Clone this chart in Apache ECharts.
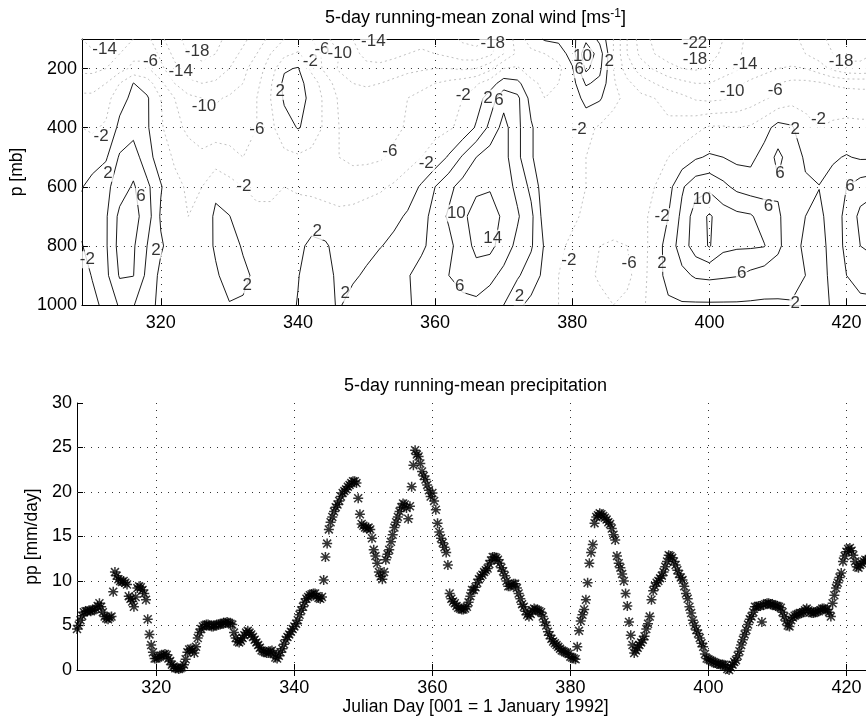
<!DOCTYPE html>
<html><head><meta charset="utf-8">
<script src="https://cdn.jsdelivr.net/npm/echarts@6/dist/echarts.min.js"></script>
<style>html,body{margin:0;padding:0;background:#fff;overflow:hidden;}#c{width:951px;height:721px;}</style>
</head><body><div id="c"></div>
<script>
// ---------------- DATA ----------------
// Zonal wind field (m/s) on a day x pressure grid
const gridDays = [308.5,310,312,314,316,318,320,322,324,326,328,330,332,334,336,338,340,342,344,346,348,350,352,354,356,358,360,362,364,366,368,370,372,374,376,378,380,382,384,386,388,390,392,394,396,398,400,402,404,406,408,410,412,414,416,418,420,422,424];
const pressureLevels = [100,150,200,250,300,400,500,600,700,800,900,1000];
const u100 = [-14,-15,-16,-13,-10,-9,-13,-17,-19,-20, -19,-17,-15,-12,-9,-6,-5,-6,-9,-12, -14,-15,-16,-16,-15,-15,-16,-17,-18.5,-19, -18,-10,-4,0,2.5,3,5,9,5,-2, -10,-16,-19,-21,-22,-22.5,-21,-18,-15,-13, -12,-12,-13,-15,-17,-19,-20,-19,-18];
const u150 = [-13,-13.5,-14,-10,-7,-6.5,-11,-15,-18,-19, -18,-16,-13,-10,-6,-3,-1.5,-4,-7,-10, -13,-15,-15.5,-15,-14,-13.5,-14,-15,-16.5,-17, -15,-10,-5,-3,-2,-0.5,4,13,8,-2, -10,-15,-18,-20,-21,-21.5,-20,-17,-14.5,-13, -12,-12,-12.5,-14,-16,-18,-19,-18.5,-18];
const u200 = [-11,-11,-10,-7.5,-5,-5.5,-9,-13,-16,-17, -16,-14,-11,-8,-4,1.5,2.3,-3,-7,-10.5, -12,-13,-13,-12,-11,-10.5,-10,-10,-10.5,-10, -7,-2,-1.5,-4,-5,-3,1.5,11,7,-2, -8,-12,-14.5,-16.5,-18,-18.5,-17.5,-16,-14.5,-13, -11.5,-10,-9.5,-10,-12,-15,-17,-17.5,-17];
const u250 = [-8,-8,-6,-2,2.1,0,-5,-10,-13,-14, -13.5,-12,-10,-7,-2.5,3,3.5,0,-4,-8, -10,-10.5,-10,-9,-8,-7,-6,-5,-4,-2.5, 0,4,3,-1,-3,-2,0.5,6.5,5,-1.5, -5,-8,-10,-12,-13,-14,-14,-12.5,-11,-9, -7.5,-6,-5,-5,-5.5,-6.5,-7,-7,-7];
const u300 = [-5,-5,-3.5,0.5,3,2.5,-2,-6,-9,-10, -10.5,-9.5,-8,-6,-2,2.5,3.5,1,-3,-6.5, -8,-8.5,-8,-7,-6,-5,-4,-3,-2,0, 4,8.5,7,0.5,-2,-2,-0.5,3.5,2.5,-1, -3,-5,-6,-7.5,-9,-10.5,-11,-10.5,-9.5,-8, -6.5,-5,-3.5,-3,-3,-3.5,-4,-4.5,-4.5];
const u400 = [-2,-2.5,-1.5,3,4.5,2.5,-1.5,-4.5,-7,-8.5, -8,-7.5,-7,-6,-3,0.5,2.2,1,-3,-6, -7.5,-8,-8,-7,-5.5,-4,-3,-2.5,-1,2.5, 7,11.5,7,2.5,-1,-2,-2,-1,-2.5,-3.5, -4.5,-5,-5.5,-5,-4,-3,-1.5,-1.5,-2,-1.5, 0.5,3.5,2.5,-1,-2,-1.5,-1,-1,-1];
const u500 = [-1,0,1.5,6.5,8,3.5,0,-2.5,-4,-5, -4,-5,-6,-6,-5,-3,-2.5,-3.5,-5,-6, -7,-7,-6.5,-5,-3.5,-2,-0.5,2.5,6.5,10, 12,11.5,7,2.5,-1,-1.5,-2,-2,-2.5,-3, -3.5,-3.5,-3,-2,-0.5,1.5,2.5,2,1,1, 3.5,7,4,1.5,0.5,1.5,2.3,1.5,1.5];
const u600 = [1.8,3.5,5,8,10.5,7,2.3,-1,-2.5,-2, 1,-0.5,-2,-3,-2.5,-2,-2.5,-3,-3.5,-4, -3.5,-3,-2.5,-1.5,0,2.5,6,9,11.5,13, 13.5,12,9,5,-0.5,-1,-1.5,-2,-2.5,-3, -3.5,-3,-2,0.5,5.5,8.5,9,7,5,4, 4.5,5.5,4.5,2.5,2.1,3.5,6,8,9];
const u700 = [3,4,5.5,11,11.5,8,1.5,-1,-2,-1, 2.8,2.1,0,-1,-1.5,-1,-0.5,0,-0.5,-1, -1,-0.5,0,1,2.5,4,8,10.5,13,16, 16.5,13,10.5,7,0,-1,-1.5,-2.5,-3.5,-4, -4.5,-3,-1,2,7,12,14.5,12,11,10.5, 8,6.5,4,2,1,4,7,11,12];
const u800 = [1.8,4,5.5,11.5,10.5,6,2.5,0,-1,0, 2.5,4,1.5,0,-0.5,0,1,3,2.5,0.5, 0.5,1,1.8,3,4,5.5,7,9,12,15, 15.2,12,9,6.5,1.5,-1.5,-2.5,-4,-6,-6.5, -6,-4,0,3.5,8,12,14.3,11,10.5,10.5, 10.2,7,3,1.5,0.5,3.5,7,10,11];
const u900 = [0.5,2.2,5,10.4,10.1,5,1,-0.5,-1,0, 1.5,3.5,3,1,0,0.5,1.8,4,3.5,1, 1.5,2.5,4.5,5,5.8,7,8,10,12,12.5, 11,9,6.5,4,1,-2,-3,-5,-6.5,-7.5, -7,-4,0.5,3,5,6.5,6.8,6.5,6.2,5, 4,3.5,3,2,0.5,3,6,7.5,8];
const u1000 = [0,1,3,6.5,6.2,3.5,1,0,-0.5,-0.5, 0.5,1.8,1.5,0.5,0,0.5,2.2,3.5,2.8,1.7, 3.2,4,4.5,5,5.8,6.5,7,8,8.5,9, 8,6,2.8,1,0,-2,-3,-4,-5,-6, -5,-3,0,1.5,1.6,1.5,1.5,1.5,1.5,1.5, 1.5,1.6,1.8,1.5,0.5,2.5,4,5,5];
const contourLevels = [-22,-18,-14,-10,-6,-2,2,6,10,14];

// Contour labels as printed in the picture
const labelText = ["2","6","2","-2","-2","2","-2","-6","-10","-14","-6","-14","-18","2","-2","-6","-10","-14","-6","-2","-2","2","2","10","6","2","6","14","2","-18","10","6","2","-2","-2","-6","-2","2","-22","-18","-14","-10","-6","-2","2","-18","6","10","6","6","2","6"];
const labelDay  = [312.3,317.1,319.3,309.3,311.3,332.6,332.1,334.0,326.3,311.8,318.5,322.9,325.3,337.4,341.8,343.5,346.1,351.0,353.4,358.7,364.1,342.8,346.9,363.1,363.6,367.7,369.3,368.4,372.3,368.4,381.5,381.0,385.4,381.0,379.5,388.3,393.1,393.1,397.9,397.9,405.2,403.3,409.6,415.9,412.5,419.2,410.3,398.9,408.6,404.7,412.5,420.5];
const labelP    = [554,633,814,847,430,932,599,407,328,136,176,210,142,277,176,136,148,108,481,520,289,752,960,689,938,300,306,774,972,114,159,204,176,407,848,859,701,859,114,170,187,277,272,373,407,176,554,644,667,893,994,599];

// Precipitation (mm/day), 6-hourly, starting at day 308.5
const ppStart = 308.5, ppStep = 0.25;
const ppA = [4.6,5.0, 5.6,6.1,6.5,6.6, 6.6,6.7,6.6,6.7, 6.8,6.9,7.2,7.5, 7.1,6.5,6.0,5.8, 5.7,5.9,6.0,8.8, 11.0,10.6,10.2,10.0, 9.9,10.0,9.8,9.6, 8.3,8.0,7.7,7.1, 8.2,9.2,9.4,9.3, 9.0,8.6,7.9,5.7, 4.0,2.8,2.0,1.3];
const ppB = [1.3,1.4,1.5,1.6, 1.7,1.8,1.7,1.3, 1.0,0.6,0.4,0.2, 0.2,0.1,0.2,0.3, 0.6,1.2,2.0,2.3, 2.4,2.2,1.9,2.6, 3.6,4.2,4.6,4.9, 5.0,5.1,5.1,5.0, 4.9,4.9,5.0,5.1, 5.1,5.1,5.2,5.3, 5.3,5.4,5.3,5.2, 5.1,4.2,3.6,3.2, 3.1,3.3,3.6,3.9, 4.2,4.4,4.2,4.0, 3.7,3.4,3.1,2.8, 2.5,2.2,2.1,2.0, 1.9,1.9,2.1,2.2, 1.8,1.4,1.3,1.6, 2.0,2.4,2.9,3.4, 3.7,4.0,4.3,4.6];
const ppC = [4.9,5.2,5.6,6.2, 6.7,7.1,7.6,8.0, 8.2,8.4,8.5,8.6, 8.6,8.3,8.1,8.0, 8.2,10.1,12.7,14.2, 15.8,16.6,17.2,17.8, 18.3,18.6,19.0,19.5, 19.9,20.1,20.3,20.6, 20.8,21.0,21.2,21.2, 21.0,19.3,17.5,16.4, 16.2,16.0,15.9,16.0, 15.8,14.8,13.5,12.8, 12.0,11.0,10.5,10.2, 11.0,12.4,13.0,13.5, 14.4,15.2,16.0,16.6, 17.2,17.8,18.3,18.7, 18.6,18.2,17.0,18.4, 20.6,23.0,24.7,24.2, 24.0,23.2,22.3,21.8, 21.4,20.8,20.2,19.5];
const ppD = [19.9,19.0,18.0,16.5, 15.5,14.8,14.3,13.8, 13.2,11.8,8.6,8.0, 7.7,7.5,7.2,7.0, 6.9,6.8,6.8,6.9, 7.1,7.6,8.3,9.0, 9.0,9.3,9.8,10.2, 10.5,10.7,11.0,11.2, 11.4,11.9,12.3,12.7, 12.7,12.6,12.4,12.0, 11.5,11.1,10.6,10.0, 9.4,9.4,9.6,9.7, 9.7,9.2,8.6,8.0, 7.4,7.1,6.6,6.2, 6.0,6.3,6.7,6.9, 6.8,6.7,6.6,6.5, 6.0,5.4,5.0,4.3, 3.9,3.5,3.2,3.0, 2.8,2.6,2.4,2.2, 2.1,2.0,1.9,1.8];
const ppE = [1.5,1.4,1.3,1.2, 2.6,4.4,5.5,6.2, 6.8,7.9,9.8,12.0, 13.2,14.1,16.5,17.2, 17.4,17.6,17.5,17.3, 17.1,16.9,16.6,16.4, 15.9,15.2,14.6,12.8, 12.0,11.5,10.8,10.0, 8.6,7.2,5.4,3.9, 2.8,1.9,2.2,2.5, 2.8,3.1,3.4,3.8, 4.6,5.2,6.0,7.9, 8.9,9.4,9.8,10.0, 10.3,10.6,11.0,11.6, 12.2,12.9,12.8,12.6, 12.2,11.8,11.2,10.8, 10.4,10.1,9.4,8.6, 8.0,7.1,6.4,5.6, 5.0,4.5,4.1,3.6, 3.0,2.6,1.8,1.3];
const ppF = [1.2,1.1,1.0,0.9, 0.8,0.7,0.7,0.6, 0.6,0.6,0.5,0.1, 0.0,0.3,0.6,0.9, 1.1,1.6,2.1,2.8, 3.4,4.0,4.5,5.1, 5.7,6.0,6.5,7.1, 7.1,7.2,7.2,5.4, 7.3,7.4,7.5,7.5, 7.4,7.4,7.3,7.2, 7.2,7.1,7.0,6.5, 6.0,5.5,5.0,4.9, 5.6,5.9,6.1,6.2, 6.3,6.4,6.4,6.5, 6.7,6.9,6.7,6.5, 6.4,6.4,6.5,6.6, 6.6,6.7,6.9,6.9, 6.8,6.8,6.5,6.0, 7.5,8.4,9.2,9.8, 10.4,10.9,12.2,12.8, 13.3,13.6,13.7,13.4, 12.9,12.2,11.6,11.5, 11.8,12.0,12.2,12.4, 12.3,12.4,12.5,12.6, 12.7];

const dayTicks = [320,340,360,380,400,420];
const pTicks = [200,400,600,800,1000];
const ppTicks = [0,5,10,15,20,25,30];

// ---------------- CONTOURING (marching squares on the grid) ----------------
const field = [u100,u150,u200,u250,u300,u400,u500,u600,u700,u800,u900,u1000];
function contour(level){
  const xs = gridDays, ys = pressureLevels;
  const segs = [];
  function pt(e){
    let va,vb,xa,xb,ya,yb;
    if(e.t==='h'){va=field[e.j][e.i];vb=field[e.j][e.i+1];xa=xs[e.i];xb=xs[e.i+1];ya=yb=ys[e.j];}
    else{va=field[e.j][e.i];vb=field[e.j+1][e.i];xa=xb=xs[e.i];ya=ys[e.j];yb=ys[e.j+1];}
    const t=(level-va)/(vb-va);
    return [xa+t*(xb-xa), ya+t*(yb-ya)];
  }
  for(let j=0;j<ys.length-1;j++){
    for(let i=0;i<xs.length-1;i++){
      const v0=field[j][i],v1=field[j][i+1],v2=field[j+1][i+1],v3=field[j+1][i];
      const s0=v0>=level,s1=v1>=level,s2=v2>=level,s3=v3>=level;
      const E=[
        {key:'h'+j+'_'+i,cross:s0!==s1,t:'h',j:j,i:i},
        {key:'v'+j+'_'+(i+1),cross:s1!==s2,t:'v',j:j,i:i+1},
        {key:'h'+(j+1)+'_'+i,cross:s3!==s2,t:'h',j:j+1,i:i},
        {key:'v'+j+'_'+i,cross:s0!==s3,t:'v',j:j,i:i}
      ];
      const c=E.filter(e=>e.cross);
      if(c.length===2) segs.push([c[0],c[1]]);
      else if(c.length===4){
        const center=(v0+v1+v2+v3)/4>=level;
        if(center===s0){segs.push([E[0],E[1]]);segs.push([E[2],E[3]]);}
        else{segs.push([E[0],E[3]]);segs.push([E[1],E[2]]);}
      }
    }
  }
  const byKey={};
  segs.forEach((s,idx)=>{s.forEach(e=>{(byKey[e.key]=byKey[e.key]||[]).push(idx);});});
  const used=new Array(segs.length).fill(false);
  const out=[];
  for(let k=0;k<segs.length;k++){
    if(used[k]) continue;
    used[k]=true;
    const chain=[segs[k][0],segs[k][1]];
    for(const atEnd of [true,false]){
      while(true){
        const endE=atEnd?chain[chain.length-1]:chain[0];
        const cand=(byKey[endE.key]||[]).find(m=>!used[m]);
        if(cand===undefined) break;
        used[cand]=true;
        const s=segs[cand];
        const nextE=s[0].key===endE.key?s[1]:s[0];
        if(atEnd) chain.push(nextE); else chain.unshift(nextE);
      }
    }
    out.push({coords:chain.map(pt)});
  }
  return out;
}

// ---------------- CHART ----------------
const FONT = 'Liberation Sans, Arial, Helvetica, sans-serif';
const ppValues = [].concat(ppA,ppB,ppC,ppD,ppE,ppF);
const ppData = ppValues.map((v,i)=>[ppStart+i*ppStep, v]);
const asterisk = 'path://M8.5,0H11.5V20H8.5Z M0,8.5H20V11.5H0Z M1,3.1L3.1,1L19,16.9L16.9,19Z M16.9,1L19,3.1L3.1,19L1,16.9Z';

const contourSeries = contourLevels.map(L=>({
  type:'lines', coordinateSystem:'cartesian2d', xAxisIndex:0, yAxisIndex:0,
  polyline:true, silent:true, animation:false, z:3,
  data: contour(L),
  lineStyle: L>0 ? {color:'#000', width:0.9, opacity:1, type:'solid'}
                 : {color:'#b0b0b0', width:0.8, opacity:1, type:[2,3]}
}));

const gridLineStyle = {type:[1,6], color:'#333', width:1};
function gridMarks(xVals, yVals){
  return {silent:true, symbol:'none', animation:false, label:{show:false},
    lineStyle:gridLineStyle,
    data:[].concat(xVals.map(v=>({xAxis:v})), yVals.map(v=>({yAxis:v})))};
}

const axisLabelStyle = {fontFamily:FONT, fontSize:18, color:'#000', formatter:function(v){return String(v);}};
const lineBlack = {show:true, lineStyle:{color:'#000', width:1}};

function xAx(gi, pos, labels, margin, name){
  const a = {type:'value', gridIndex:gi, position:pos, min:308.5, max:424,
    axisLine:lineBlack,
    axisTick:{show:true, inside:true, length:6, customValues:dayTicks, lineStyle:{color:'#000'}},
    axisLabel:Object.assign({show:labels, customValues:dayTicks, margin:margin}, axisLabelStyle),
    splitLine:{show:false}};
  if(name){a.name=name;a.nameLocation='middle';a.nameGap=26;a.nameTextStyle={fontFamily:FONT,fontSize:17.5,color:'#000'};}
  return a;
}

const option = {
  animation:false,
  backgroundColor:'#fff',
  title:[
    {text:'5-day running-mean zonal wind [ms{sup|-1}]', left:'center', top:3,
     textStyle:{fontFamily:FONT, fontSize:18, fontWeight:'normal', color:'#000',
       rich:{sup:{fontFamily:FONT, fontSize:12, color:'#000', padding:[0,0,9,0]}}}},
    {text:'5-day running-mean precipitation', left:'center', top:372,
     textStyle:{fontFamily:FONT, fontSize:18, fontWeight:'normal', color:'#000'}}
  ],
  grid:[
    {left:77, right:77, top:39, height:266},
    {left:77, right:77, top:403, height:267}
  ],
  xAxis:[
    xAx(0,'bottom',true,9),
    xAx(0,'top',false,8),
    xAx(1,'bottom',true,9,'Julian Day [001 = 1 January 1992]'),
    xAx(1,'top',false,8)
  ],
  yAxis:[
    {type:'value', gridIndex:0, min:100, max:1000, inverse:true, position:'left',
     name:'p [mb]', nameLocation:'middle', nameGap:43, nameTextStyle:{fontFamily:FONT,fontSize:17.5,color:'#000'},
     axisLine:lineBlack,
     axisTick:{show:true, inside:true, length:6, customValues:pTicks, lineStyle:{color:'#000'}},
     axisLabel:Object.assign({customValues:pTicks, margin:5}, axisLabelStyle),
     splitLine:{show:false}},
    {type:'value', gridIndex:0, min:100, max:1000, inverse:true, position:'right',
     axisLine:lineBlack, axisTick:{show:true, inside:true, length:6, customValues:pTicks, lineStyle:{color:'#000'}},
     axisLabel:{show:false}, splitLine:{show:false}},
    {type:'value', gridIndex:1, min:0, max:30, interval:5, position:'left',
     name:'pp [mm/day]', nameLocation:'middle', nameGap:21, nameTextStyle:{fontFamily:FONT,fontSize:17.5,color:'#000'},
     axisLine:lineBlack,
     axisTick:{show:true, inside:true, length:6, lineStyle:{color:'#000'}},
     axisLabel:Object.assign({margin:5}, axisLabelStyle),
     splitLine:{show:false}},
    {type:'value', gridIndex:1, min:0, max:30, interval:5, position:'right',
     axisLine:lineBlack, axisTick:{show:true, inside:true, length:6, lineStyle:{color:'#000'}},
     axisLabel:{show:false}, splitLine:{show:false}}
  ],
  series:[].concat(
    [{type:'line', xAxisIndex:0, yAxisIndex:0, data:[[308.5,100]], showSymbol:false, symbol:'none',
      lineStyle:{opacity:0}, silent:true, z:1,
      markLine:gridMarks(dayTicks, pTicks.filter(v=>v<1000))},
     {type:'line', xAxisIndex:2, yAxisIndex:2, data:[[308.5,0]], showSymbol:false, symbol:'none',
      lineStyle:{opacity:0}, silent:true, z:1,
      markLine:gridMarks(dayTicks, ppTicks.filter(v=>v>0 && v<30))}],
    contourSeries,
    [{type:'scatter', xAxisIndex:0, yAxisIndex:0, silent:true, z:5, clip:false,
      symbol:'circle', symbolSize:1, itemStyle:{color:'rgba(0,0,0,0)'},
      label:{show:true, position:'inside', formatter:'{b}', fontFamily:FONT, fontSize:17, color:'#000',
             backgroundColor:'#fff', padding:[0,1,0,1]},
      data: labelText.map((t,i)=>({name:t, value:[labelDay[i], labelP[i]]}))},
     {type:'scatter', xAxisIndex:2, yAxisIndex:2, silent:true, z:4,
      symbol:asterisk, symbolSize:10, itemStyle:{color:'#000'},
      data: ppData}]
  )
};
const chart = echarts.init(document.getElementById('c'), null, {renderer:'canvas'});
chart.setOption(option);
</script>
</body></html>
